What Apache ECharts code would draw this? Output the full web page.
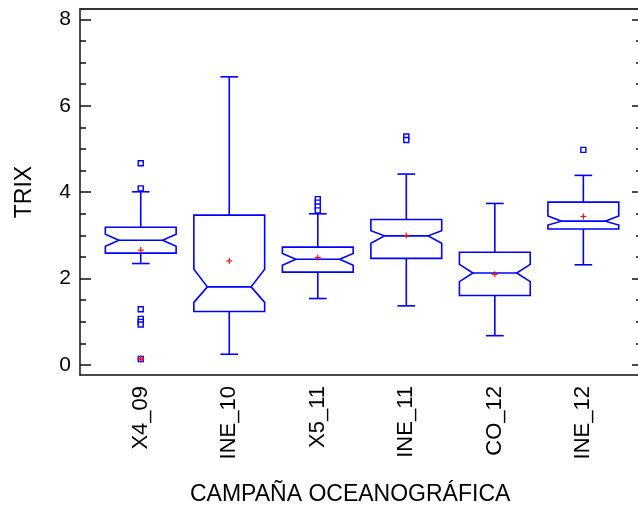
<!DOCTYPE html>
<html>
<head>
<meta charset="utf-8">
<script src="https://cdn.jsdelivr.net/npm/echarts@6/dist/echarts.min.js"></script>
<style>html,body{margin:0;padding:0;background:#fff}#c{width:638px;height:506px}</style>
</head>
<body>
<div id="c"></div>
<script>
const categories = ['X4_09', 'INE_10', 'X5_11', 'INE_11', 'CO_12', 'INE_12'];
const upperWhisker = [4.01, 6.67, 3.50, 4.42, 3.74, 4.39];
const q3 = [3.19, 3.47, 2.73, 3.37, 2.61, 3.77];
const notchHigh = [3.03, 2.22, 2.58, 3.11, 2.33, 3.45];
const median = [2.89, 1.81, 2.45, 2.99, 2.13, 3.33];
const notchLow = [2.75, 1.45, 2.31, 2.82, 1.93, 3.24];
const q1 = [2.59, 1.24, 2.15, 2.47, 1.61, 3.15];
const lowerWhisker = [2.35, 0.25, 1.54, 1.37, 0.68, 2.32];
const mean = [2.66, 2.41, 2.49, 3.00, 2.10, 3.44];
const outlierCategory = [0, 0, 0, 0, 0, 0, 0, 2, 2, 2, 2, 3, 3, 5];
const outlierValue = [4.67, 4.09, 1.29, 1.07, 1.00, 0.94, 0.14, 3.84, 3.76, 3.67, 3.58, 5.29, 5.21, 4.98];
const farOutlierCategory = [0];
const farOutlierValue = [0.14];
const yTicks = [0, 2, 4, 6, 8];

const BLUE = '#0000ff';
const FONT = '"Liberation Sans", Arial, sans-serif';

const boxData = categories.map((c, i) => [i + 1, lowerWhisker[i], q1[i], notchLow[i], median[i], notchHigh[i], q3[i], upperWhisker[i], mean[i]]);

function renderItem(params, api) {
  const x = api.value(0);
  const lw = api.value(1), a = api.value(2), nl = api.value(3), md = api.value(4),
        nh = api.value(5), b = api.value(6), uw = api.value(7), mn = api.value(8);
  const hw = 0.4, ind = 0.153, cw = 0.1;
  const p = (dx, v) => api.coord([x + dx, v]);
  const st = { stroke: BLUE, lineWidth: 1.6, fill: 'none' };
  const pts = [p(-hw, b), p(hw, b), p(hw, nh), p(hw - ind, md), p(hw, nl), p(hw, a),
               p(-hw, a), p(-hw, nl), p(-hw + ind, md), p(-hw, nh)];
  const line = (p1, p2, style) => ({ type: 'line', shape: { x1: p1[0], y1: p1[1], x2: p2[0], y2: p2[1] }, style: style || st });
  const m = api.coord([x, mn]);
  const red = { stroke: '#ff0000', lineWidth: 1.1 };
  return {
    type: 'group',
    children: [
      { type: 'polygon', shape: { points: pts }, style: st },
      line(p(-hw + ind, md), p(hw - ind, md)),
      line(p(0, b), p(0, uw)),
      line(p(-cw, uw), p(cw, uw)),
      line(p(0, a), p(0, lw)),
      line(p(-cw, lw), p(cw, lw)),
      { type: 'line', shape: { x1: m[0] - 3, y1: m[1], x2: m[0] + 3, y2: m[1] }, style: red },
      { type: 'line', shape: { x1: m[0], y1: m[1] - 3, x2: m[0], y2: m[1] + 3 }, style: red }
    ]
  };
}

const chart = echarts.init(document.getElementById('c'), null, { renderer: 'canvas' });
chart.setOption({
  animation: false,
  backgroundColor: '#fff',
  grid: { left: 80, right: -2, top: 9, bottom: 131, containLabel: false, outerBoundsMode: 'none' },
  xAxis: [
    {
      type: 'value', position: 'bottom', min: 0.314, max: 6.64,
      axisLine: { show: true, onZero: false, lineStyle: { color: '#111', width: 1.5 } },
      axisTick: { show: false },
      splitLine: { show: false },
      axisLabel: {
        customValues: [1, 2, 3, 4, 5, 6],
        formatter: v => categories[Math.round(v) - 1] || '',
        rotate: 90, margin: 11, fontSize: 22, color: '#000', fontFamily: FONT
      }
    },
    {
      type: 'value', position: 'top', min: 0.314, max: 6.64,
      axisLine: { show: true, onZero: false, lineStyle: { color: '#333', width: 2 } },
      axisTick: { show: false }, axisLabel: { show: false }, splitLine: { show: false }
    }
  ],
  yAxis: [
    {
      type: 'value', position: 'left', min: -0.23, max: 8.24,
      name: 'TRIX', nameLocation: 'middle', nameRotate: 90, nameGap: 44,
      nameTextStyle: { fontSize: 23, color: '#000', fontFamily: FONT },
      axisLine: { show: true, onZero: false, lineStyle: { color: '#111', width: 1.5 } },
      axisTick: { show: true, inside: true, length: 11, customValues: yTicks, lineStyle: { color: '#111', width: 1.5 } },
      minorTick: { show: true, splitNumber: 4, length: 6, lineStyle: { color: '#111', width: 1.5 } },
      axisLabel: { customValues: yTicks, margin: 9, fontSize: 21, color: '#000', fontFamily: FONT },
      splitLine: { show: false }
    },
    {
      type: 'value', position: 'right', min: -0.23, max: 8.24,
      axisLine: { show: true, onZero: false, lineStyle: { color: '#111', width: 1.5 } },
      axisTick: { show: true, inside: true, length: 8, customValues: yTicks, lineStyle: { color: '#111', width: 1.5 } },
      minorTick: { show: true, splitNumber: 4, length: 4, lineStyle: { color: '#111', width: 1.5 } },
      axisLabel: { show: false },
      splitLine: { show: false }
    }
  ],
  graphic: [
    {
      type: 'text', left: 349 - 159, top: 483,
      style: { text: 'CAMPAÑA OCEANOGRÁFICA', fontSize: 23, fill: '#000', fontFamily: FONT }
    }
  ],
  series: [
    {
      type: 'custom', name: 'boxes', xAxisIndex: 0, yAxisIndex: 0,
      renderItem: renderItem, data: boxData, clip: false,
      encode: { x: 0, y: [1, 2, 3, 4, 5, 6, 7, 8] }
    },
    {
      type: 'scatter', name: 'outliers', xAxisIndex: 0, yAxisIndex: 0,
      symbol: 'rect', symbolSize: 5,
      itemStyle: { color: '#fff', borderColor: BLUE, borderWidth: 1.4, opacity: 1 },
      data: outlierCategory.map((c, i) => [c + 1, outlierValue[i]]),
      z: 3
    },
    {
      type: 'scatter', name: 'far', xAxisIndex: 0, yAxisIndex: 0,
      symbol: 'path://M-0.2,-1H0.2V-0.2H1V0.2H0.2V1H-0.2V0.2H-1V-0.2H-0.2Z', symbolSize: 7,
      itemStyle: { color: '#ff0000', opacity: 1 },
      data: farOutlierCategory.map((c, i) => [c + 1, farOutlierValue[i]]),
      z: 4
    }
  ]
});
</script>
</body>
</html>
